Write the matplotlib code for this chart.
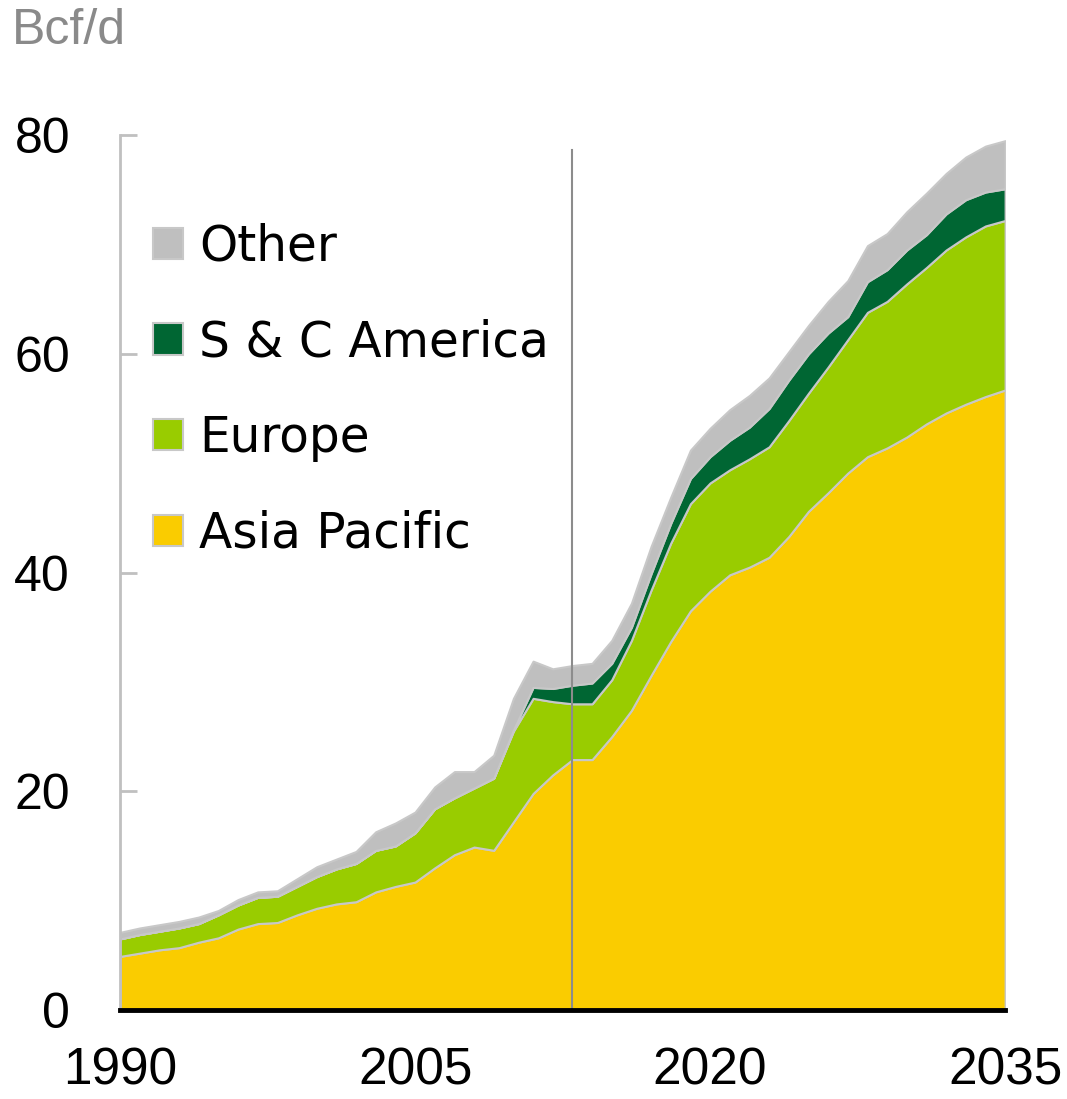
import numpy as np
import matplotlib
matplotlib.use("Agg")
import matplotlib.pyplot as plt
from matplotlib.patches import Patch

# data (Bcf/d), cumulative tops of each layer
years = np.arange(1990, 2036)

asia_top = [4.9, 5.2, 5.5, 5.7, 6.2, 6.6, 7.4, 7.9, 8.0, 8.7,
            9.3, 9.7, 9.9, 10.8, 11.3, 11.7, 13.0, 14.2, 14.9, 14.6,
            17.2, 19.8, 21.5, 22.9, 22.9, 25.0, 27.4, 30.6, 33.7, 36.5,
            38.3, 39.8, 40.5, 41.4, 43.3, 45.6, 47.3, 49.1, 50.6, 51.4,
            52.4, 53.6, 54.6, 55.4, 56.1, 56.7]
europe_top = [6.5, 6.9, 7.2, 7.5, 7.9, 8.7, 9.6, 10.3, 10.4, 11.3,
              12.2, 12.9, 13.4, 14.6, 15.0, 16.2, 18.4, 19.4, 20.3, 21.2,
              25.5, 28.5, 28.2, 28.0, 28.0, 30.2, 33.8, 38.4, 42.7, 46.3,
              48.2, 49.4, 50.4, 51.5, 53.9, 56.4, 58.8, 61.3, 63.8, 64.8,
              66.4, 67.9, 69.5, 70.7, 71.7, 72.2]
sca_top = [6.5, 6.9, 7.2, 7.5, 7.9, 8.7, 9.6, 10.3, 10.4, 11.3,
           12.2, 12.9, 13.4, 14.6, 15.0, 16.2, 18.4, 19.4, 20.3, 21.2,
           25.6, 29.5, 29.4, 29.7, 29.9, 31.7, 35.0, 39.9, 44.5, 48.6,
           50.6, 52.1, 53.3, 55.0, 57.6, 60.0, 61.9, 63.4, 66.6, 67.7,
           69.5, 70.9, 72.8, 74.1, 74.8, 75.1]
other_top = [7.1, 7.5, 7.8, 8.1, 8.5, 9.1, 10.1, 10.8, 10.9, 12.0,
             13.1, 13.8, 14.5, 16.3, 17.1, 18.1, 20.4, 21.8, 21.8, 23.3,
             28.5, 31.9, 31.2, 31.5, 31.7, 33.8, 37.2, 42.4, 46.9, 51.2,
             53.2, 54.9, 56.2, 57.8, 60.2, 62.6, 64.8, 66.7, 69.9, 71.0,
             73.0, 74.7, 76.5, 78.0, 79.0, 79.5]

labels = ["Asia Pacific", "Europe", "S & C America", "Other"]
colors = ["#FACC00", "#99CC00", "#006633", "#BFBFBF"]
edge = "#C8C8C8"
split_year = 2013

plt.rcParams['font.family'] = ['Liberation Sans', 'DejaVu Sans']

fig = plt.figure(figsize=(10.67, 10.99), dpi=100)
ax = fig.add_axes([0.1125, 0.081, 0.8295, 0.796])

# stacked layers, each drawn between the previous top and its own top
layers = [asia_top, europe_top, sca_top, other_top]
lower = np.zeros(len(years))
for top, c in zip(layers, colors):
    top = np.array(top)
    ax.fill_between(years, lower, top, facecolor=c, edgecolor=edge,
                    linewidth=1.5, zorder=2)
    lower = top

# history / projection split
ax.axvline(split_year, ymin=0, ymax=78.6 / 80, color="#8C8C8C",
           linewidth=1.5, zorder=3)

ax.set_xlim(1990, 2035)
ax.set_ylim(0, 80)
ax.set_yticks([0, 20, 40, 60, 80])
ax.set_xticks([1990, 2005, 2020, 2035])

for s in ["top", "right"]:
    ax.spines[s].set_visible(False)
ax.spines["left"].set_color("#C0C0C0")
ax.spines["left"].set_linewidth(2)
ax.spines["bottom"].set_color("black")
ax.spines["bottom"].set_linewidth(3.5)
ax.spines["bottom"].set_zorder(4)

ax.tick_params(axis="y", direction="in", length=12, width=2, color="#C0C0C0",
               pad=36, labelsize=36)
ax.tick_params(axis="x", length=0, pad=26, labelsize=37)

fig.text(0.011, 0.972, "Bcf/d", fontsize=36, color="#8A8A8A", va="center")

handles = [Patch(facecolor=c, edgecolor=edge, linewidth=1.5)
           for c in colors[::-1]]
ax.legend(handles, labels[::-1], loc="upper left",
          bbox_to_anchor=(0.1436, 0.7975), bbox_transform=fig.transFigure,
          frameon=False, prop={"family": "DejaVu Sans", "size": 35},
          handlelength=0.62, handleheight=0.62,
          handletextpad=0.32, labelspacing=0.98, borderpad=0,
          borderaxespad=0)

fig.savefig("out.png", dpi=100)
